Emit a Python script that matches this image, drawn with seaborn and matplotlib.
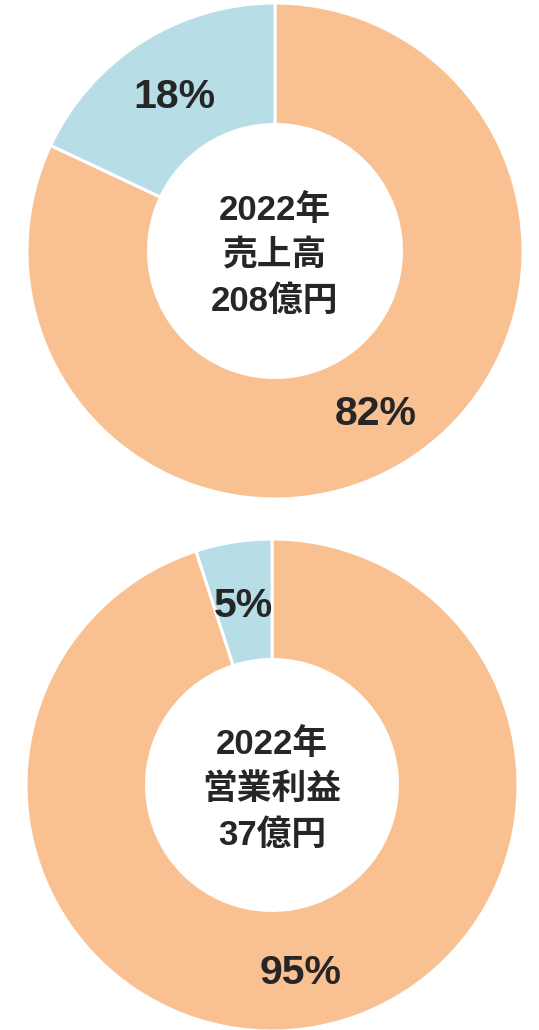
import matplotlib
matplotlib.use("Agg")
import matplotlib.pyplot as plt
import seaborn as sns

# shares in %, orange segment first then blue
sales_share = [82, 18]
profit_share = [95, 5]
sales_center = ["2022年", "売上高", "208億円"]
profit_center = ["2022年", "営業利益", "37億円"]
colors = ["#F9C192", "#B7DDE6"]
text_color = "#262626"

sns.set_theme(style="white")
plt.rcParams['font.family'] = ['Liberation Sans', 'Noto Sans CJK JP']

fig = plt.figure(figsize=(5.39, 10.30), dpi=100)


def donut(ax, shares, center_lines):
    wedges, texts, autotexts = ax.pie(
        shares, colors=colors, startangle=90, counterclock=False, radius=1,
        wedgeprops=dict(width=0.49, edgecolor="white", linewidth=2.2),
        autopct=lambda p: f"{p:.0f}%", pctdistance=0.755,
        textprops=dict(fontsize=29.5, fontweight="bold", color=text_color))
    # labels sit a touch lower in the original
    for t in autotexts:
        x, y = t.get_position()
        t.set_position((x, y - 0.018))
    # centre caption, three lines
    for i, line in enumerate(center_lines):
        ax.text(0, 0.165 - i * 0.185, line, ha="center", va="center",
                fontsize=25, fontweight="bold", color=text_color)
    ax.set_xlim(-1, 1)
    ax.set_ylim(-1, 1)
    ax.set_aspect("equal")
    ax.set_axis_off()


ax1 = fig.add_axes([27 / 539, (1030 - 499) / 1030, 496 / 539, 496 / 1030])
donut(ax1, sales_share, sales_center)

ax2 = fig.add_axes([26 / 539, -1 / 1030, 492 / 539, 492 / 1030])
donut(ax2, profit_share, profit_center)

fig.savefig("out.png", dpi=100, facecolor="white")
